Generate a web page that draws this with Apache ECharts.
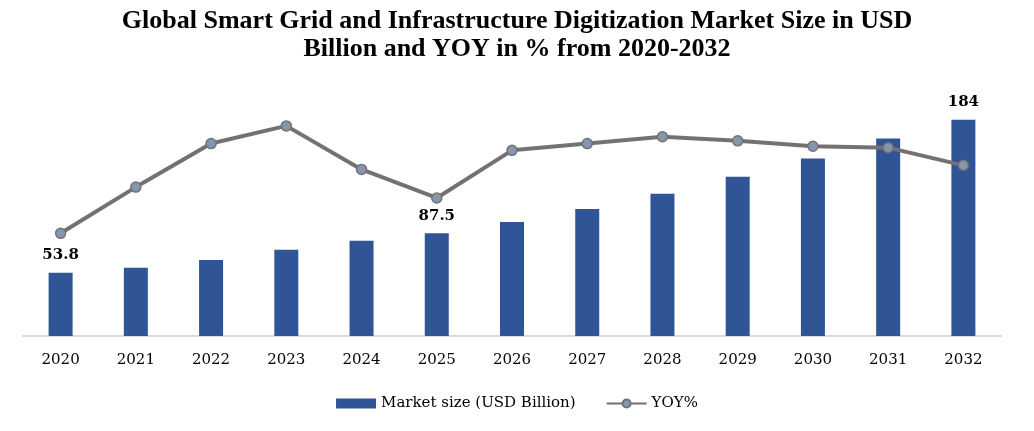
<!DOCTYPE html>
<html><head><meta charset="utf-8">
<script src="https://cdn.jsdelivr.net/npm/echarts@6/dist/echarts.min.js"></script>
<style>html,body{margin:0;padding:0;background:#fff}#c{width:1034px;height:431px}</style>
</head><body><div id="c"></div>
<script>
const years = ['2020','2021','2022','2023','2024','2025','2026','2027','2028','2029','2030','2031','2032'];
const marketSize = [53.8, 58, 64.7, 73.3, 81, 87.5, 97, 108, 121, 135.5, 151, 168, 184];
const yoyPct = [5.4, 8.8, 12.0, 13.3, 10.1, 8.0, 11.5, 12.0, 12.5, 12.2, 11.8, 11.7, 10.4];
const labeledYears = ['2020','2025','2032'];
const titleText = 'Global Smart Grid and Infrastructure Digitization Market Size in USD\nBillion and YOY in % from 2020-2032';

const font = 'DejaVu Serif';
const titleFont = 'Liberation Serif';
const chart = echarts.init(document.getElementById('c'), null, {renderer:'canvas'});
chart.setOption({
  animation:false,
  title:{text:titleText,left:'center',top:2,textStyle:{fontFamily:titleFont,fontWeight:'bold',fontSize:26,lineHeight:28,color:'#000'}},
  grid:{left:23,right:33,top:101,height:235,containLabel:false},
  legend:{bottom:15,left:'center',itemGap:30,itemWidth:40,itemHeight:10,
    textStyle:{fontFamily:font,fontSize:15,color:'#000'},
    data:[{name:'Market size (USD Billion)',icon:'rect'},{name:'YOY%'}]},
  xAxis:{type:'category',data:years,axisTick:{show:false},
    axisLine:{lineStyle:{color:'#d9d9d9',width:2}},
    axisLabel:{fontFamily:font,fontSize:15,color:'#000',margin:17}},
  yAxis:[{type:'value',min:0,max:200,show:false,splitLine:{show:false}},
         {type:'value',min:-2.15,max:15.13,show:false,splitLine:{show:false}}],
  series:[
    {name:'Market size (USD Billion)',type:'bar',data:marketSize.map((v,i)=>({value:v,label:{show:labeledYears.includes(years[i])}})),
      barWidth:24,itemStyle:{color:'#2F5597'},
      label:{position:'top',distance:10,fontFamily:font,fontWeight:'bold',fontSize:15,color:'#000'}},
    {name:'YOY%',type:'line',yAxisIndex:1,data:yoyPct,symbol:'circle',symbolSize:10,
      lineStyle:{color:'#767171',width:4},
      itemStyle:{color:'#8497B0',borderColor:'#767171',borderWidth:1.5}}
  ]
});
</script></body></html>
